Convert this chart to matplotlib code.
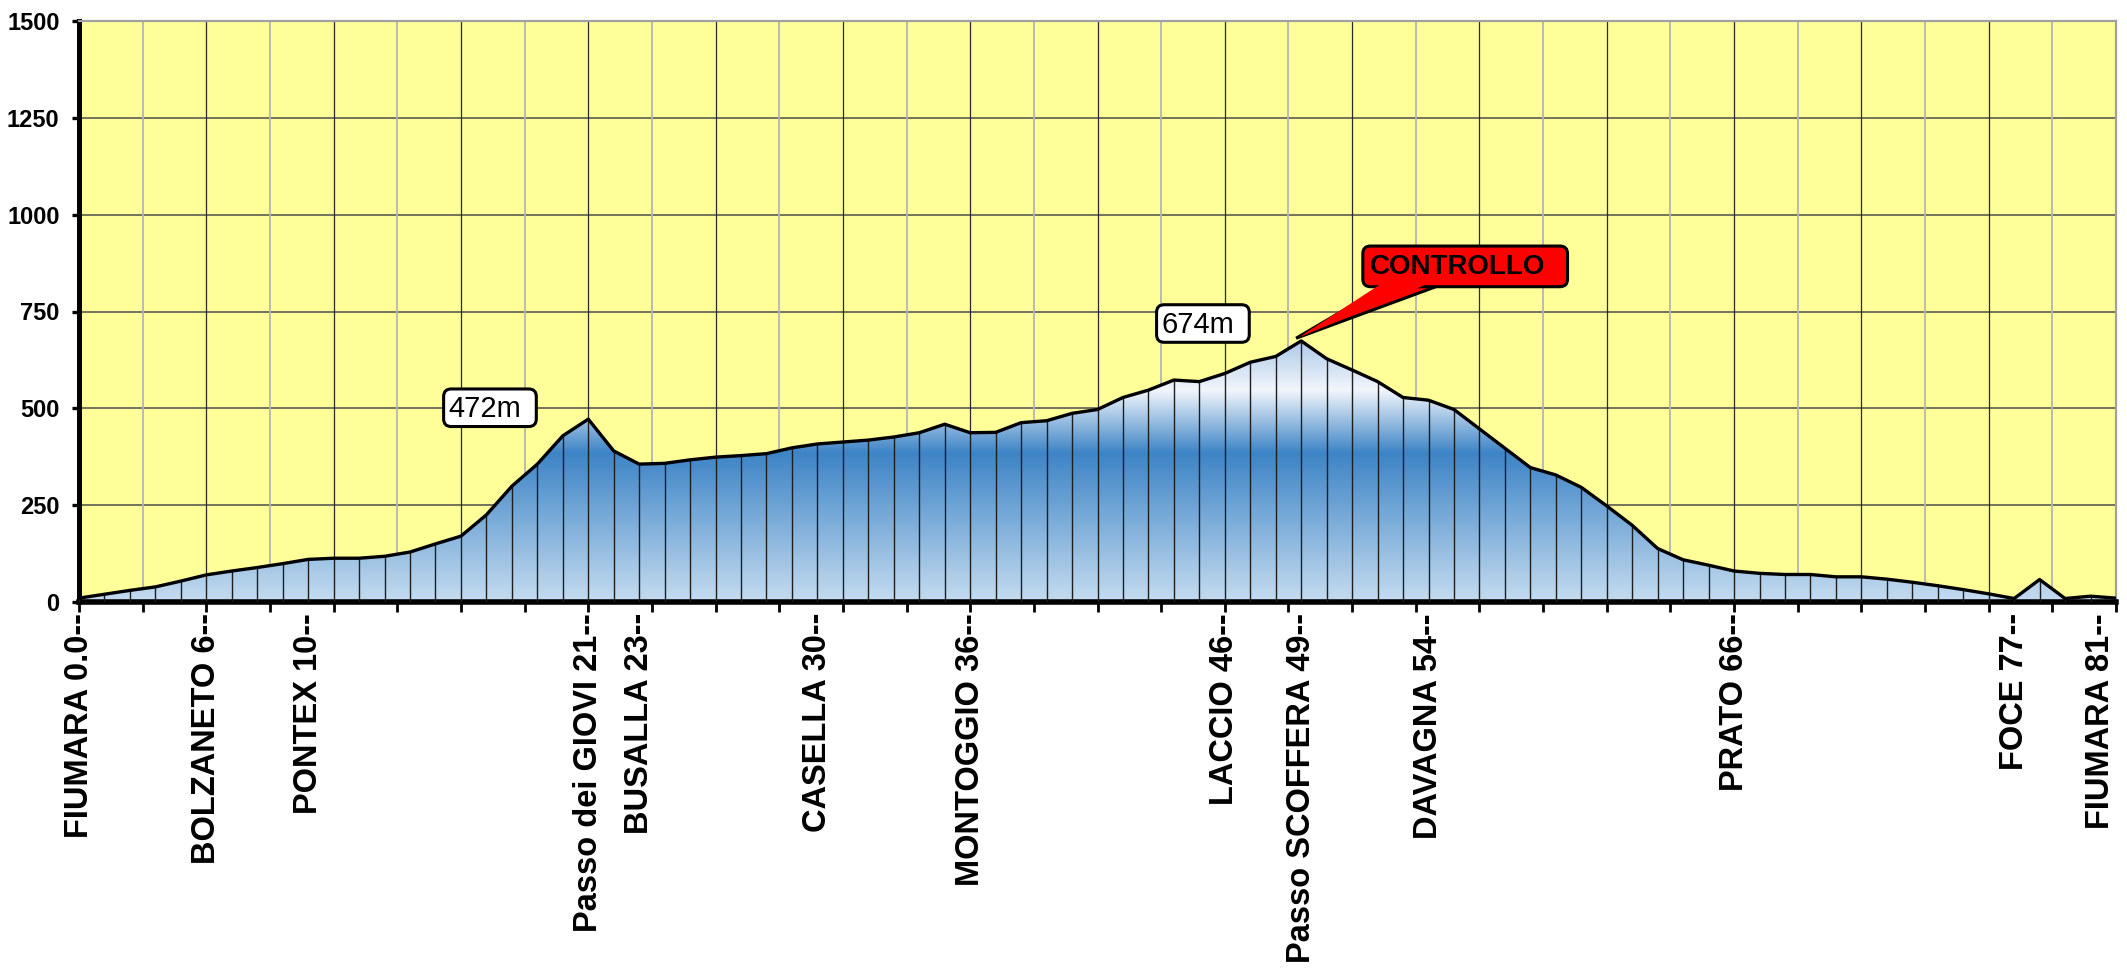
import matplotlib
matplotlib.use('Agg')
import matplotlib.pyplot as plt
import numpy as np
from matplotlib.colors import LinearSegmentedColormap
from matplotlib.patches import FancyBboxPatch, Polygon

plt.rcParams['font.family'] = ['Liberation Sans', 'DejaVu Sans']

# Profilo altimetrico: quota (m) per ogni km del percorso
quota = [10, 20, 30, 39, 54, 70, 80, 89, 99, 110,
         113, 113, 118, 129, 150, 170, 225, 299, 356, 429,
         472, 390, 356, 358, 367, 374, 378, 383, 398, 408,
         413, 418, 426, 437, 459, 437, 438, 463, 468, 487,
         497, 528, 547, 573, 569, 590, 619, 634, 674, 628,
         599, 569, 528, 521, 497, 447, 397, 347, 328, 296,
         248, 198, 138, 109, 95, 80, 74, 71, 71, 65,
         65, 59, 51, 42, 32, 21, 9, 58, 9, 15, 10]

# Localita' sull'asse x
localita = ['FIUMARA 0.0--', 'BOLZANETO 6--', 'PONTEX 10--',
            'Passo dei GIOVI 21--', 'BUSALLA 23--', 'CASELLA 30--',
            'MONTOGGIO 36--', 'LACCIO 46--', 'Passo SCOFFERA 49--',
            'DAVAGNA 54--', 'PRATO 66--', 'FOCE 77--', 'FIUMARA 81--']
pos_localita = [0, 5, 9, 20, 22, 29, 35, 45, 48, 53, 65, 76, 80]

# Cime evidenziate
picchi = [20, 48]
etichette_picchi = ['472m', '674m']

km = np.arange(len(quota))
q = np.array(quota)

# ------------- Rysunek -------------------------------------
fig = plt.figure(figsize=(21.27, 9.68), dpi=100)
ax = fig.add_axes([79 / 2127, 1 - 602 / 968, 2037 / 2127, 581 / 968])
ax.set_facecolor('#ffff99')

# griglia
ax.hlines(np.arange(250, 1500, 250), km[0], km[-1], colors='#4d4d4d', lw=1.1, zorder=1)
ax.vlines(np.arange(5, 80, 5), 0, 1500, colors='#2a2a2a', lw=0.9, zorder=1)
ax.vlines(np.arange(2.5, 80, 5), 0, 1500, colors='#b4b4b4', lw=1.3, zorder=1)

# riempimento sfumato
cmap = LinearSegmentedColormap.from_list(
    'rilievo', [(0, '#c5dcf0'), (0.57, '#3d84c6'), (0.81, '#f2f6fc'), (1, '#acc9e8')])
grad = np.linspace(0, 1, 256).reshape(-1, 1)
img = ax.imshow(grad, cmap=cmap, origin='lower', aspect='auto',
                extent=[km[0], km[-1], 0, q.max()], zorder=2, interpolation='bilinear')
verts = list(zip(km, q)) + [(km[-1], 0), (km[0], 0)]
sagoma = Polygon(verts, closed=True, facecolor='none', edgecolor='none')
ax.add_patch(sagoma)
img.set_clip_path(sagoma)
ax.set_xlim(km[0], km[-1])
ax.set_ylim(0, 1500)

ax.vlines(km, 0, q, colors='#1e1e1e', lw=1.0, zorder=3)
ax.plot(km, q, color='black', lw=2.4, zorder=5)

# assi
for s in ['top', 'right']:
    ax.spines[s].set_color('#a0a0a0')
    ax.spines[s].set_linewidth(1.6)
ax.spines['left'].set_linewidth(3.6)
ax.spines['bottom'].set_linewidth(4)

ax.set_yticks(np.arange(0, 1501, 250))
ax.tick_params(axis='y', direction='out', length=5, width=2.4, pad=9, labelsize=17)
for t in ax.get_yticklabels():
    t.set_fontweight('bold')

ax.xaxis.remove_overlapping_locs = False
ax.set_xticks(pos_localita)
ax.set_xticklabels(localita, rotation=90, fontsize=23.5, fontweight='bold')
ax.get_xticklabels()[-1].set_horizontalalignment('right')
ax.set_xticks(np.arange(0, 80.1, 2.5), minor=True)
ax.tick_params(axis='x', which='major', length=0, pad=8)
ax.tick_params(axis='x', which='minor', direction='out', length=7, width=2)

# etichette
bb = ax.get_window_extent()
asp = (bb.width / (km[-1] - km[0])) / (bb.height / 1500)


def riquadro(x0, y0, w, h, fc):
    box = FancyBboxPatch((x0, y0), w, h, boxstyle='round,pad=0,rounding_size=0.3',
                         mutation_aspect=asp, fc=fc, ec='black', lw=2.2, zorder=7)
    ax.add_patch(box)


for i, testo in zip(picchi, etichette_picchi):
    x0 = km[i] - 5.68
    y0 = q[i] - 19 if i == 20 else q[i] - 3.5
    riquadro(x0, y0, 3.64, 97, 'white')
    ax.text(x0 + 0.18, y0 + 25, testo, fontsize=21, ha='left', va='baseline', zorder=8)

# richiamo CONTROLLO
xp, yp = km[48], q[48]
cuneo = [(xp - 0.2, yp + 7), (xp + 3.5, yp + 150), (xp + 5.7, yp + 150)]
ax.add_patch(Polygon(cuneo, closed=True, fc='#ff0000', ec='black', lw=2.2, zorder=6))
riquadro(xp + 2.42, yp + 140, 8.04, 105, '#ff0000')
cuneo_int = [(xp - 0.1, yp + 9), (xp + 3.55, yp + 165), (xp + 5.62, yp + 165)]
ax.add_patch(Polygon(cuneo_int, closed=True, fc='#ff0000', ec='none', zorder=7.5))
ax.text(xp + 2.7, yp + 172, 'CONTROLLO', fontsize=20, fontweight='bold',
        ha='left', va='baseline', zorder=8)

fig.savefig('out.png', dpi=100)
